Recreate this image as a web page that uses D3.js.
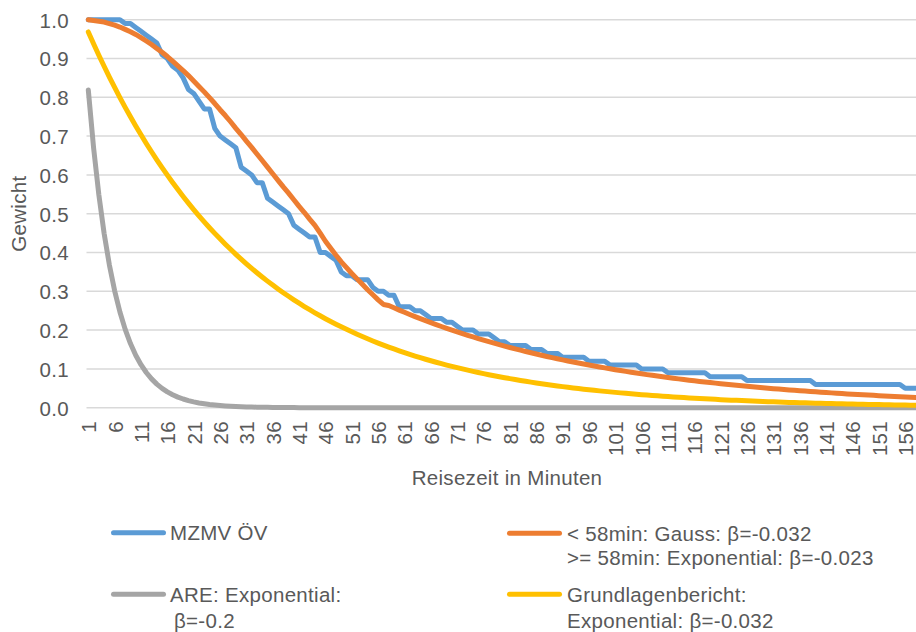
<!DOCTYPE html>
<html>
<head>
<meta charset="utf-8">
<script src="https://cdn.jsdelivr.net/npm/d3@7"></script>
<style>
  html, body { margin: 0; padding: 0; background: #ffffff; }
  svg { display: block; font-family: "Liberation Sans", Arial, sans-serif; }
  svg text { letter-spacing: 0.3px; }
</style>
</head>
<body>
<svg id="chart" width="916" height="632"></svg>
<script>
// Travel time in minutes (categories 1..158)
const minutes = d3.range(1, 159);
const xTickLabels = ["1","6","11","16","21","26","31","36","41","46","51","56","61","66","71","76","81","86","91","96","101","106","111","116","121","126","131","136","141","146","151","156"];
const yTickLabels = ["0.0","0.1","0.2","0.3","0.4","0.5","0.6","0.7","0.8","0.9","1.0"];
const yTickValues = [0,0.1,0.2,0.3,0.4,0.5,0.6,0.7,0.8,0.9,1.0];

// MZMV ÖV (observed weights)
const mzmv = [
  1.00,1.00,1.00,1.00,1.00,1.00,1.00,0.99,0.99,0.98,
  0.97,0.96,0.95,0.94,0.91,0.90,0.88,0.87,0.85,0.82,
  0.81,0.79,0.77,0.77,0.72,0.70,0.69,0.68,0.67,0.62,
  0.61,0.60,0.58,0.58,0.54,0.53,0.52,0.51,0.50,0.47,
  0.46,0.45,0.44,0.44,0.40,0.40,0.39,0.38,0.35,0.34,
  0.34,0.33,0.33,0.33,0.31,0.30,0.30,0.29,0.29,0.26,
  0.26,0.26,0.25,0.25,0.24,0.23,0.23,0.23,0.22,0.22,
  0.21,0.20,0.20,0.20,0.19,0.19,0.19,0.18,0.17,0.17,
  0.16,0.16,0.16,0.16,0.15,0.15,0.15,0.14,0.14,0.14,
  0.13,0.13,0.13,0.13,0.13,0.12,0.12,0.12,0.12,0.11,
  0.11,0.11,0.11,0.11,0.11,0.10,0.10,0.10,0.10,0.10,
  0.09,0.09,0.09,0.09,0.09,0.09,0.09,0.09,0.08,0.08,
  0.08,0.08,0.08,0.08,0.08,0.07,0.07,0.07,0.07,0.07,
  0.07,0.07,0.07,0.07,0.07,0.07,0.07,0.07,0.06,0.06,
  0.06,0.06,0.06,0.06,0.06,0.06,0.06,0.06,0.06,0.06,
  0.06,0.06,0.06,0.06,0.06,0.05,0.05,0.05
];

// < 58 min Gauss, >= 58 min exponential
const gaussExp = [
  1.000,0.998,0.996,0.994,0.990,0.986,0.981,0.975,0.969,0.962,
  0.954,0.945,0.936,0.926,0.916,0.905,0.893,0.881,0.869,0.856,
  0.842,0.828,0.814,0.799,0.784,0.768,0.753,0.737,0.720,0.704,
  0.687,0.671,0.654,0.637,0.620,0.603,0.586,0.569,0.553,0.536,
  0.519,0.503,0.486,0.470,0.450,0.429,0.411,0.393,0.376,0.361,
  0.346,0.332,0.318,0.304,0.291,0.278,0.266,0.2634,0.2574,0.2516,
  0.2459,0.2403,0.2348,0.2295,0.2243,0.2192,0.2142,0.2093,0.2046,0.1999,
  0.1954,0.1909,0.1866,0.1823,0.1782,0.1741,0.1702,0.1663,0.1625,0.1588,
  0.1552,0.1517,0.1482,0.1449,0.1416,0.1384,0.1352,0.1321,0.1291,0.1262,
  0.1233,0.1205,0.1178,0.1151,0.1125,0.1099,0.1074,0.1050,0.1026,0.1003,
  0.0980,0.0957,0.0936,0.0914,0.0894,0.0873,0.0853,0.0834,0.0815,0.0797,
  0.0778,0.0761,0.0743,0.0726,0.0710,0.0694,0.0678,0.0663,0.0648,0.0633,
  0.0619,0.0604,0.0591,0.0577,0.0564,0.0551,0.0539,0.0527,0.0515,0.0503,
  0.0491,0.0480,0.0469,0.0459,0.0448,0.0438,0.0428,0.0419,0.0409,0.0400,
  0.0391,0.0382,0.0373,0.0365,0.0356,0.0348,0.0340,0.0333,0.0325,0.0318,
  0.0311,0.0304,0.0297,0.0290,0.0283,0.0277,0.0271,0.0264
];

// ARE: exponential, beta = -0.2
const are = [
  0.8187,0.6703,0.5488,0.4493,0.3679,0.3012,0.2466,0.2019,0.1653,0.1353,
  0.1108,0.0907,0.0743,0.0608,0.0498,0.0408,0.0334,0.0273,0.0224,0.0183,
  0.0150,0.0123,0.0101,0.0082,0.0067,0.0055,0.0045,0.0037,0.0030,0.0025,
  0.0020,0.0017,0.0014,0.0011,0.0009,0.0007,0.0006,0.0005,0.0004,0.0003,
  0,0,0,0,0,0,0,0,0,0,
  0,0,0,0,0,0,0,0,0,0,
  0,0,0,0,0,0,0,0,0,0,
  0,0,0,0,0,0,0,0,0,0,
  0,0,0,0,0,0,0,0,0,0,
  0,0,0,0,0,0,0,0,0,0,
  0,0,0,0,0,0,0,0,0,0,
  0,0,0,0,0,0,0,0,0,0,
  0,0,0,0,0,0,0,0,0,0,
  0,0,0,0,0,0,0,0,0,0,
  0,0,0,0,0,0,0,0,0,0,
  0,0,0,0,0,0,0,0
];

// Grundlagenbericht: exponential, beta = -0.032
const grundlagen = [
  0.9685,0.9380,0.9085,0.8799,0.8521,0.8253,0.7993,0.7741,0.7498,0.7261,
  0.7033,0.6811,0.6597,0.6389,0.6188,0.5993,0.5804,0.5621,0.5444,0.5273,
  0.5107,0.4946,0.4790,0.4639,0.4493,0.4352,0.4215,0.4082,0.3953,0.3829,
  0.3708,0.3591,0.3478,0.3369,0.3263,0.3160,0.3060,0.2964,0.2871,0.2780,
  0.2693,0.2608,0.2526,0.2446,0.2369,0.2294,0.2222,0.2152,0.2084,0.2019,
  0.1955,0.1894,0.1834,0.1776,0.1720,0.1666,0.1614,0.1563,0.1514,0.1466,
  0.1420,0.1375,0.1332,0.1290,0.1249,0.1210,0.1172,0.1135,0.1099,0.1065,
  0.1031,0.0999,0.0967,0.0937,0.0907,0.0879,0.0851,0.0824,0.0798,0.0773,
  0.0749,0.0725,0.0702,0.0680,0.0659,0.0638,0.0618,0.0598,0.0579,0.0561,
  0.0543,0.0526,0.0510,0.0494,0.0478,0.0463,0.0449,0.0434,0.0421,0.0408,
  0.0395,0.0382,0.0370,0.0359,0.0347,0.0336,0.0326,0.0315,0.0305,0.0296,
  0.0287,0.0278,0.0269,0.0260,0.0252,0.0244,0.0237,0.0229,0.0222,0.0215,
  0.0208,0.0201,0.0195,0.0189,0.0183,0.0177,0.0172,0.0166,0.0161,0.0156,
  0.0151,0.0146,0.0142,0.0137,0.0133,0.0129,0.0125,0.0121,0.0117,0.0113,
  0.0110,0.0106,0.0103,0.0100,0.0096,0.0093,0.0090,0.0088,0.0085,0.0082,
  0.0080,0.0077,0.0075,0.0072,0.0070,0.0068,0.0066,0.0064
];

const seriesColors = ["#5B9BD5", "#ED7D31", "#A5A5A5", "#FFC000"];

const svg = d3.select("#chart");
const textColor = "#595959";
const fontSize = 20.5;

const x = d3.scalePoint().domain(minutes).range([88.3, 915.7]);
const y = d3.scaleLinear().domain([0, 1]).range([407.7, 19.7]);

// horizontal gridlines
svg.append("g")
  .selectAll("line")
  .data(yTickValues)
  .join("line")
  .attr("x1", 86.5).attr("x2", 916)
  .attr("y1", d => y(d)).attr("y2", d => y(d))
  .attr("stroke", "#D9D9D9").attr("stroke-width", 1.5);

// y axis labels
const yAxis = d3.axisLeft(y).tickValues(yTickValues)
  .tickFormat((d, i) => yTickLabels[i]).tickSize(0).tickPadding(0);
svg.append("g")
  .attr("transform", "translate(69,0)")
  .call(yAxis)
  .call(g => g.select(".domain").remove())
  .call(g => g.selectAll("text")
    .attr("fill", textColor).attr("font-size", fontSize)
    .attr("font-family", "Liberation Sans, Arial, sans-serif").attr("dy", "0.36em"));

// x axis labels (rotated)
const xAxis = d3.axisBottom(x).tickValues(xTickLabels.map(Number))
  .tickFormat((d, i) => xTickLabels[i]).tickSize(0).tickPadding(0);
svg.append("g")
  .attr("transform", "translate(0,421)")
  .call(xAxis)
  .call(g => g.select(".domain").remove())
  .call(g => g.selectAll("text")
    .attr("fill", textColor).attr("font-size", fontSize)
    .attr("font-family", "Liberation Sans, Arial, sans-serif")
    .attr("text-anchor", "end")
    .attr("transform", "rotate(-90)")
    .attr("x", 0).attr("y", 0).attr("dy", "0.36em"));

// axis titles
svg.append("text")
  .attr("transform", "translate(26,213.7) rotate(-90)")
  .attr("text-anchor", "middle")
  .attr("fill", textColor).attr("font-size", fontSize)
  .text("Gewicht");
svg.append("text")
  .attr("x", 507).attr("y", 485)
  .attr("text-anchor", "middle")
  .attr("fill", textColor).attr("font-size", fontSize)
  .text("Reisezeit in Minuten");

// series lines
const line = d3.line().x((d, i) => x(minutes[i])).y(d => y(d));
const seriesData = [mzmv, gaussExp, are, grundlagen];
svg.append("g")
  .selectAll("path")
  .data(seriesData)
  .join("path")
  .attr("d", d => line(d))
  .attr("fill", "none")
  .attr("stroke", (d, i) => seriesColors[i])
  .attr("stroke-width", 5)
  .attr("stroke-linejoin", "round")
  .attr("stroke-linecap", "round");

// legend
const legendItems = [
  { lx: 111, ly: 532.7, lines: [["MZMV ÖV", 170, 539.5]] },
  { lx: 507, ly: 533.3, lines: [["< 58min: Gauss: β=-0.032", 567, 540.5], [">= 58min: Exponential: β=-0.023", 567, 565]] },
  { lx: 111, ly: 594.3, lines: [["ARE: Exponential:", 170, 601.7], ["β=-0.2", 174, 627.7]] },
  { lx: 507, ly: 594.3, lines: [["Grundlagenbericht:", 567, 601.7], ["Exponential: β=-0.032", 567, 627.7]] }
];
const leg = svg.append("g");
legendItems.forEach((item, i) => {
  leg.append("line")
    .attr("x1", item.lx + 2.5).attr("x2", item.lx + 52.5)
    .attr("y1", item.ly).attr("y2", item.ly)
    .attr("stroke", seriesColors[i]).attr("stroke-width", 5)
    .attr("stroke-linecap", "round");
  item.lines.forEach(([t, tx, ty]) => {
    leg.append("text").attr("x", tx).attr("y", ty)
      .attr("fill", textColor).attr("font-size", fontSize).text(t);
  });
});
</script>
</body>
</html>
